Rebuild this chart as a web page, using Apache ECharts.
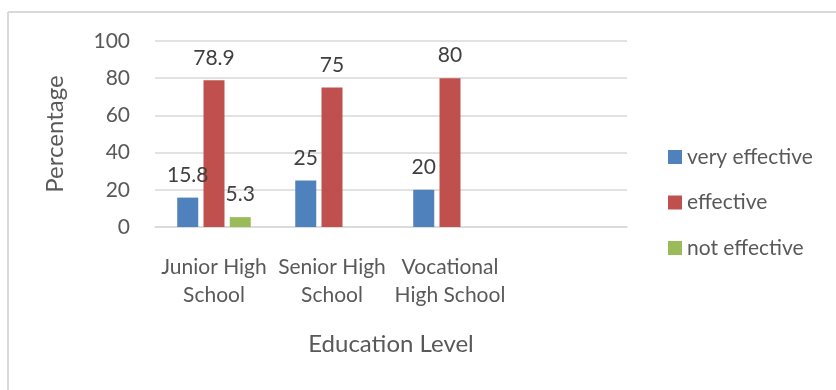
<!DOCTYPE html>
<html>
<head>
<meta charset="utf-8">
<script src="https://cdn.jsdelivr.net/npm/echarts@6/dist/echarts.min.js"></script>
<style>
  html, body { margin: 0; padding: 0; background: #fff; }
  #chart { width: 836px; height: 390px; }
</style>
</head>
<body>
<div id="chart"></div>
<script>
// Category axis (the last slot is left blank, as in the original workbook)
const categories = ['Junior High\nSchool', 'Senior High\nSchool', 'Vocational\nHigh School', ''];
const veryEffective = [15.8, 25, 20, null];
const effective = [78.9, 75, 80, null];
const notEffective = [5.3, null, null, null];
const yTicks = [0, 20, 40, 60, 80, 100];

const FONT = 'Lato, "Open Sans", sans-serif';
const TEXT = '#595959';

const chart = echarts.init(document.getElementById('chart'), null, { renderer: 'canvas' });

function barSeries(name, data, color) {
  return {
    name: name,
    type: 'bar',
    data: data,
    barWidth: 21,
    barGap: '25%',
    itemStyle: { color: color },
    label: {
      show: true,
      position: 'top',
      distance: 12,
      fontFamily: FONT,
      fontSize: 21,
      color: '#404040'
    }
  };
}

chart.setOption({
  animation: false,
  backgroundColor: '#fff',
  graphic: [
    { type: 'line', shape: { x1: 8, y1: 12, x2: 836, y2: 12 }, style: { stroke: '#d9d9d9', lineWidth: 2 } },
    { type: 'line', shape: { x1: 8, y1: 12, x2: 8, y2: 390 }, style: { stroke: '#d9d9d9', lineWidth: 2 } }
  ],
  grid: { left: 155, right: 209, top: 41, bottom: 163, containLabel: false },
  legend: {
    orient: 'vertical',
    left: 663,
    top: 141,
    itemWidth: 14,
    itemHeight: 14,
    itemGap: 23.5,
    icon: 'rect',
    textStyle: { fontFamily: FONT, fontSize: 21, lineHeight: 22, color: TEXT },
    data: ['very effective', 'effective', 'not effective']
  },
  xAxis: {
    type: 'category',
    data: categories,
    name: 'Education Level',
    nameLocation: 'middle',
    nameGap: 105,
    nameTextStyle: { fontFamily: FONT, fontSize: 24, color: TEXT },
    axisLine: { lineStyle: { color: '#d9d9d9', width: 1.5 } },
    axisTick: { show: false },
    axisLabel: {
      fontFamily: FONT,
      fontSize: 21,
      color: TEXT,
      lineHeight: 28,
      margin: 26,
      interval: 0
    }
  },
  yAxis: {
    type: 'value',
    min: yTicks[0],
    max: yTicks[yTicks.length - 1],
    interval: 20,
    name: 'Percentage',
    nameLocation: 'middle',
    nameGap: 88,
    nameTextStyle: { fontFamily: FONT, fontSize: 24, color: TEXT },
    axisLine: { show: false },
    axisTick: { show: false },
    splitLine: { lineStyle: { color: '#d9d9d9', width: 1.5 } },
    axisLabel: { fontFamily: FONT, fontSize: 21, color: TEXT, margin: 25 }
  },
  series: [
    barSeries('very effective', veryEffective, '#4f81bd'),
    barSeries('effective', effective, '#c0504d'),
    barSeries('not effective', notEffective, '#9bbb59')
  ]
});
</script>
</body>
</html>
